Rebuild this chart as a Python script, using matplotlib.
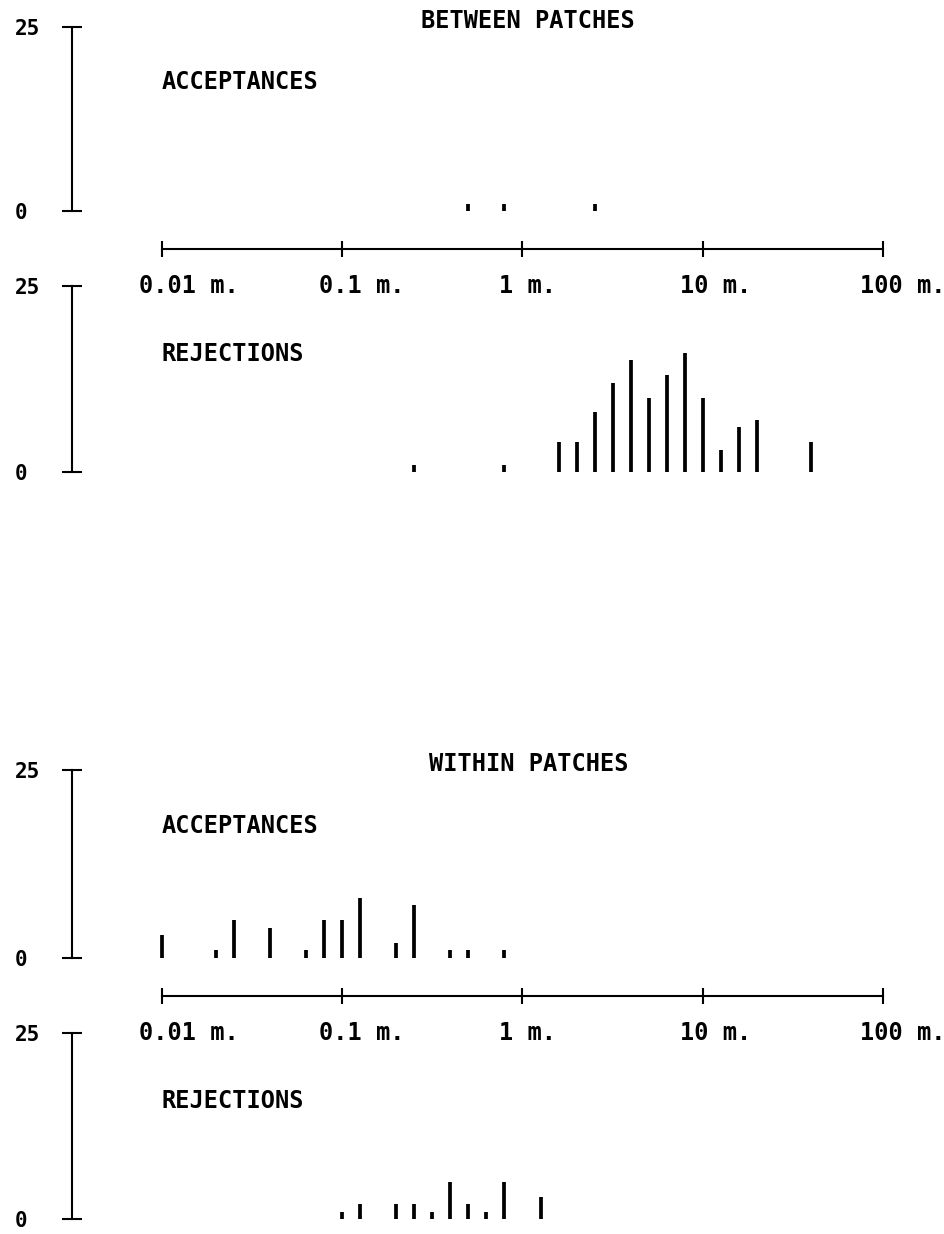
import matplotlib
matplotlib.use('Agg')
import numpy as np
import matplotlib.pyplot as plt
from matplotlib import transforms
from matplotlib.ticker import NullLocator

plt.rcParams['font.family'] = ['DejaVu Sans Mono', 'DejaVu Sans']
plt.rcParams['font.weight'] = 'bold'

W, H = 945, 1234
PT = 0.72  # points per pixel at dpi 100

# ===== data (bins are 0.1 decade wide, positions given as log10 of metres)
decade_ticks = [0.01, 0.1, 1, 10, 100]
decade_labels = ['0.01 m.', '0.1 m.', '1 m.', '10 m.', '100 m.']
count_ticks = [0, 25]
count_labels = ['0', '25']

between_acc_log = [-0.3, -0.1, 0.4]
between_acc_n = [1, 1, 1]
between_rej_log = [-0.6, -0.1, 0.2, 0.3, 0.4, 0.5, 0.6, 0.7, 0.8, 0.9, 1.0, 1.1, 1.2, 1.3, 1.6]
between_rej_n = [1, 1, 4, 4, 8, 12, 15, 10, 13, 16, 10, 3, 6, 7, 4]

within_acc_log = [-2.0, -1.7, -1.6, -1.4, -1.2, -1.1, -1.0, -0.9, -0.7, -0.6, -0.4, -0.3, -0.1]
within_acc_n = [3, 1, 5, 4, 1, 5, 5, 8, 2, 7, 1, 1, 1]
within_rej_log = [-1.0, -0.9, -0.7, -0.6, -0.5, -0.4, -0.3, -0.2, -0.1, 0.1]
within_rej_n = [1, 2, 2, 2, 1, 5, 2, 1, 5, 3]


def count_axes(fig, top, bottom, logd, counts, label, label_y, title=None, xaxis=False):
    # top/bottom: pixel rows of the 25 and 0 ticks
    ax = fig.add_axes([162 / W, 1 - bottom / H, 721 / W, (bottom - top) / H])
    ax.patch.set_visible(False)
    ax.set_xscale('log')
    ax.set_xlim(0.01, 100)
    ax.set_ylim(0, 25)
    ax.vlines(10.0 ** np.array(logd), 0, counts, colors='black', lw=2.7, clip_on=False)

    for s in ['top', 'right']:
        ax.spines[s].set_visible(False)
    ax.spines['left'].set_position(('outward', 90 * PT))
    ax.spines['left'].set_linewidth(1.5)
    ax.set_yticks(count_ticks)
    ax.set_yticklabels(count_labels, ha='left')
    ax.tick_params(axis='y', direction='inout', length=20 * PT, width=1.5,
                   pad=47 * PT, labelsize=15)

    ax.xaxis.set_minor_locator(NullLocator())
    if xaxis:
        ax.spines['bottom'].set_position(('outward', 38 * PT))
        ax.spines['bottom'].set_linewidth(1.5)
        ax.set_xticks(decade_ticks)
        ax.tick_params(axis='x', direction='inout', length=16 * PT, width=1.5,
                       labelbottom=False)
        # labels hang left of their ticks, as on the plotter output
        trans = transforms.offset_copy(ax.get_xaxis_transform(), fig=fig,
                                       x=-23, y=-75, units='dots')
        for t, lab in zip(decade_ticks, decade_labels):
            ax.text(t, 0, lab, transform=trans, ha='left', va='center', fontsize=17)
    else:
        ax.spines['bottom'].set_visible(False)
        ax.tick_params(axis='x', which='both', bottom=False, labelbottom=False)

    ax.text(0, label_y, label, transform=ax.transAxes, ha='left', va='center', fontsize=17)
    if title:
        ax.text(0.508, 1.033, title, transform=ax.transAxes, ha='center', va='center', fontsize=17)
    return ax


fig = plt.figure(figsize=(W / 100, H / 100), dpi=100)

count_axes(fig, 27, 211, between_acc_log, between_acc_n, 'ACCEPTANCES', 0.70,
           title='BETWEEN PATCHES', xaxis=True)
count_axes(fig, 286, 472, between_rej_log, between_rej_n, 'REJECTIONS', 0.635)
count_axes(fig, 770, 958, within_acc_log, within_acc_n, 'ACCEPTANCES', 0.70,
           title='WITHIN PATCHES', xaxis=True)
count_axes(fig, 1033, 1219, within_rej_log, within_rej_n, 'REJECTIONS', 0.635)

fig.savefig('out.png', dpi=100)
